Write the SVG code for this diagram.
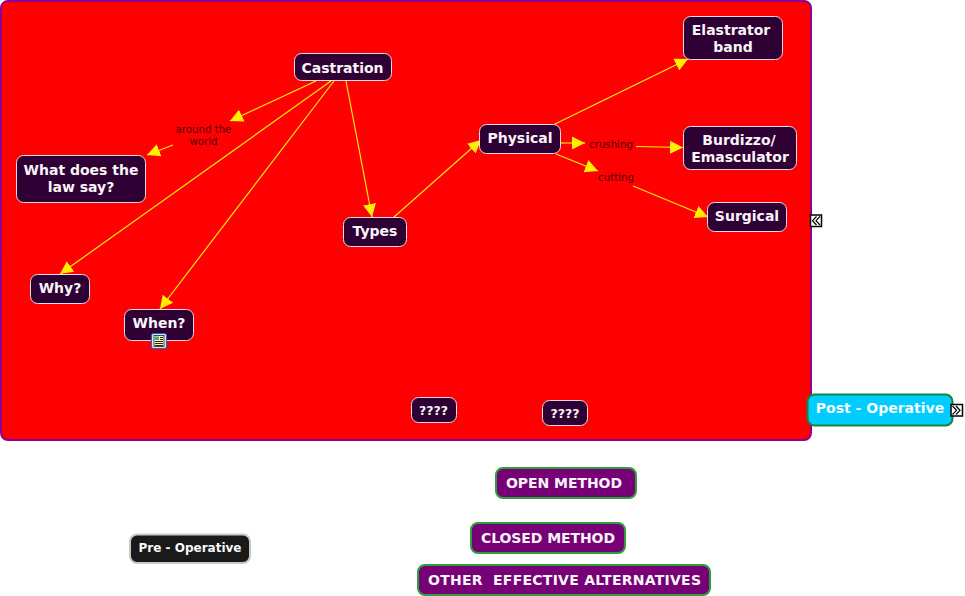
<svg xmlns="http://www.w3.org/2000/svg" width="965" height="596" viewBox="0 0 965 596">
<style>
text{font-family:"DejaVu Sans",Verdana,sans-serif;text-anchor:middle}
.n rect{fill:#2e0033;stroke:#f2d9e6;stroke-width:1}
.n text{fill:#f8f4f8;font-weight:bold;font-size:14px}
.c line{stroke:#ffee00;stroke-width:1.200;marker-end:url(#a)}
.l{fill:#4d0000;font-size:10.200px}
.m rect{fill:#770077;stroke:#2e9e3c;stroke-width:2}
.m text{fill:#f8f4f8;font-weight:bold;font-size:14px}
.t{fill:#fff;stroke:#000;stroke-width:1.500}
.g{fill:none;stroke:#000;stroke-width:1.200}
</style>
<defs>
<marker id="a" markerUnits="userSpaceOnUse" markerWidth="14" markerHeight="14" refX="13" refY="7" orient="auto"><path d="M0 0.500L13 7L0 13.500Z" fill="#ffee00"/></marker>
</defs>
<rect id="panel" x="1" y="1" width="810" height="439" rx="7" fill="#ff0000" stroke="#900090" stroke-width="2"/>
<g id="connectors" class="c">
<line x1="316" y1="81" x2="230" y2="121"/>
<line x1="173" y1="145" x2="147" y2="155"/>
<line x1="331" y1="81" x2="60" y2="274"/>
<line x1="334" y1="81" x2="160" y2="309"/>
<line x1="346" y1="81" x2="372" y2="217"/>
<line x1="394" y1="217" x2="481" y2="140"/>
<line x1="553" y1="125" x2="688" y2="59"/>
<line x1="561" y1="143" x2="585" y2="143"/>
<line x1="636" y1="146.500" x2="683" y2="147.500"/>
<line x1="556" y1="154" x2="598" y2="171"/>
<line x1="633" y1="186" x2="708" y2="217"/>
</g>
<g id="label-around"><text class="l" x="203.500" y="133">around the</text><text class="l" x="203.500" y="145">world</text></g>
<text id="label-crushing" class="l" x="611" y="148">crushing</text>
<text id="label-cutting" class="l" x="616" y="181">cutting</text>
<g id="castration" class="n"><rect x="294.500" y="53.500" width="97" height="27" rx="7"/><text x="342.500" y="72.500">Castration</text></g>
<g id="elastrator" class="n"><rect x="683.500" y="16.500" width="99" height="43" rx="7"/><text x="731" y="34.500">Elastrator</text><text x="733" y="51.500">band</text></g>
<g id="physical" class="n"><rect x="479.500" y="124.500" width="81" height="29" rx="7"/><text x="520" y="142.500">Physical</text></g>
<g id="burdizzo" class="n"><rect x="683.500" y="126.500" width="113" height="43" rx="7"/><text x="739" y="144.500">Burdizzo/</text><text x="740" y="161.500">Emasculator</text></g>
<g id="surgical" class="n"><rect x="707.500" y="202.500" width="79" height="29" rx="7"/><text x="747" y="220.500">Surgical</text></g>
<g id="law" class="n"><rect x="16.500" y="155.500" width="129" height="47" rx="7"/><text x="81" y="174.500">What does the</text><text x="81" y="191.500">law say?</text></g>
<g id="types" class="n"><rect x="343.500" y="217.500" width="63" height="29" rx="7"/><text x="375" y="235.500">Types</text></g>
<g id="why" class="n"><rect x="30.500" y="274.500" width="59" height="29" rx="7"/><text x="60" y="292.500">Why?</text></g>
<g id="when" class="n"><rect x="124.500" y="309.500" width="69" height="31" rx="7"/><text x="159" y="328">When?</text>
<rect x="151.500" y="333.500" width="15" height="15" rx="2" style="fill:#cfe6ff;stroke:#2a5fc0"/><rect x="154" y="335.500" width="10" height="11" style="fill:#fff6b0;stroke:#223;stroke-width:.8"/><path d="M155 341.500h8M155 343.500h8M155 345.500h8M160 337.500h3M160 339.500h3" stroke="#111" stroke-width=".9"/><rect x="155" y="336.500" width="4" height="3.500" style="fill:#4a7;stroke:none"/></g>
<g id="q1" class="n"><rect x="411.500" y="397.500" width="45" height="25" rx="7"/><text x="433.500" y="415" style="font-size:12.500px">????</text></g>
<g id="q2" class="n"><rect x="542.500" y="400.500" width="45" height="25" rx="7"/><text x="565" y="418" style="font-size:12.500px">????</text></g>
<g id="toggle-left"><rect class="t" x="810.500" y="215" width="11" height="11.500"/><path class="g" d="M816.500 216.500L812.500 220.700L816.500 225M820 216.500L816 220.700L820 225"/></g>
<g id="post-operative"><rect x="807.500" y="394.500" width="145" height="31" rx="7" fill="#00ccff" stroke="#0f8a3c" stroke-width="2"/><text x="880" y="413" font-weight="bold" font-size="14px" fill="#f4fbff">Post - Operative</text></g>
<g id="toggle-right"><rect class="t" x="951" y="404.500" width="11.500" height="11.500"/><path class="g" d="M952.500 406L956.500 410.300L952.500 414.500M956 406L960 410.300L956 414.500"/></g>
<g id="open-method" class="m"><rect x="496" y="468" width="140" height="30" rx="7"/><text x="564" y="488" textLength="116">OPEN METHOD</text></g>
<g id="closed-method" class="m"><rect x="471" y="523" width="154" height="30" rx="7"/><text x="548" y="543" textLength="134">CLOSED METHOD</text></g>
<g id="other" class="m"><rect x="418" y="565" width="292" height="30" rx="7"/><text x="564.500" y="585" xml:space="preserve" textLength="273">OTHER  EFFECTIVE ALTERNATIVES</text></g>
<g id="pre-operative"><rect x="130" y="534.500" width="120" height="28.500" rx="7" fill="#1a1a1a" stroke="#c8c8c8" stroke-width="2"/><text x="190" y="552" font-weight="bold" font-size="12px" fill="#f8f8f8">Pre - Operative</text></g>
</svg>
